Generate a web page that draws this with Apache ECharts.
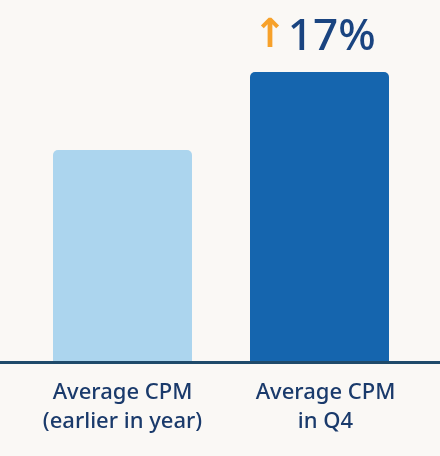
<!DOCTYPE html>
<html><head><meta charset="utf-8">
<script src="https://cdn.jsdelivr.net/npm/echarts@6/dist/echarts.min.js"></script>
<style>html,body{margin:0;padding:0;background:#faf8f5;}#c{width:440px;height:456px;}</style>
</head><body><div id="c"></div>
<script>
const categories = ['Average CPM\n(earlier in year)', 'Average CPM\nin Q4'];
const values = [73, 100];
const barColors = ['#acd5ee', '#1565ae'];
const changeLabel = '17%';

const chart = echarts.init(document.getElementById('c'));
const labelStyle = { color: '#1a3a6b', fontFamily: 'Noto Sans', fontWeight: 500, fontSize: 22, lineHeight: 29 };
chart.setOption({
  backgroundColor: '#faf8f5',
  animation: false,
  grid: { left: 24, right: 22, top: 72, bottom: 95 },
  xAxis: {
    type: 'category', data: categories,
    axisLine: { show: false }, axisTick: { show: false },
    axisLabel: Object.assign({
      interval: 0, hideOverlap: false, margin: 17,
      formatter: (v, i) => v.split('\n').map(l => '{' + (i === 1 ? 'r' : 'l') + '|' + l + '}').join('\n'),
      rich: {
        l: Object.assign({}, labelStyle),
        r: Object.assign({ padding: [0, 0, 0, 12] }, labelStyle)
      }
    }, labelStyle)
  },
  yAxis: { type: 'value', min: 0, max: 100, show: false, splitLine: { show: false } },
  graphic: [{
    type: 'rect', left: 0, top: 361, shape: { width: 440, height: 3 },
    style: { fill: '#1f4a6a' }, z: 10
  }],
  series: [{
    type: 'bar', barWidth: 139,
    data: values.map((v, i) => ({
      value: v,
      itemStyle: { color: barColors[i], borderRadius: [5, 5, 0, 0] },
      label: i === 1 ? {
        show: true, position: 'top', distance: 13,
        formatter: '{a|↑}{b|' + changeLabel + '}',
        rich: {
          a: { color: '#f7a12a', fontSize: 40, fontFamily: 'DejaVu Sans', fontWeight: 'bold', padding: [0, 1, 0, 0] },
          b: { color: '#1a4480', fontSize: 44, fontFamily: 'Noto Sans', fontWeight: 500, padding: [0, 10, 0, 0] }
        }
      } : { show: false }
    }))
  }]
});
</script></body></html>
